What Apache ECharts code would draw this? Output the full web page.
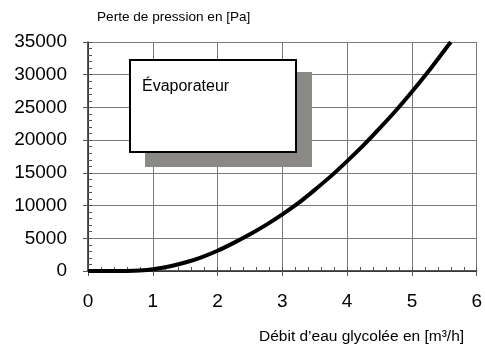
<!DOCTYPE html>
<html>
<head>
<meta charset="utf-8">
<script src="https://cdn.jsdelivr.net/npm/echarts@6/dist/echarts.min.js"></script>
<style>
  html, body { margin: 0; padding: 0; background: #ffffff; }
  #chart { width: 485px; height: 348px; }
</style>
</head>
<body>
<div id="chart"></div>
<script>
// Pressure drop of the evaporator versus glycol water flow
const flowRate = [0, 0.4, 0.6, 0.8, 1.0, 1.25, 1.5, 1.75, 2.0, 2.25, 2.5, 2.75, 3.0, 3.25, 3.5, 3.75, 4.0, 4.25, 4.5, 4.75, 5.0, 5.25, 5.5, 5.6];
const pressureDrop = [0, 0, 10, 90, 280, 700, 1300, 2100, 3100, 4300, 5610, 7050, 8650, 10400, 12400, 14500, 16800, 19200, 21800, 24500, 27400, 30450, 33700, 35000];
const xTicks = [0, 1, 2, 3, 4, 5, 6];
const yTicks = [0, 5000, 10000, 15000, 20000, 25000, 30000, 35000];

const seriesName = 'Évaporateur';
const yTitle = 'Perte de pression en [Pa]';
const xTitle = 'Débit d’eau glycolée en [m³/h]';

const FONT = 'Liberation Sans, Arial, sans-serif';
const chart = echarts.init(document.getElementById('chart'), null, { renderer: 'canvas' });

const xMin = xTicks[0], xMax = xTicks[xTicks.length - 1];
const yMin = yTicks[0], yMax = yTicks[yTicks.length - 1];
const xStep = xTicks[1] - xTicks[0];
const yStep = yTicks[1] - yTicks[0];

// secondary axes carry only the short inward minor ticks
const minorAxis = (min, max, step) => ({
  type: 'value', min: min, max: max, interval: step, offset: 0,
  axisLine: { show: true, onZero: false, lineStyle: { color: 'rgba(0,0,0,0)' } },
  axisTick: { show: true, inside: true, length: 4, lineStyle: { color: '#555' } },
  minorTick: { show: true, splitNumber: 5, length: 4, lineStyle: { color: '#555' } },
  axisLabel: { show: false },
  splitLine: { show: false }
});

chart.setOption({
  animation: false,
  backgroundColor: '#ffffff',
  grid: { left: 88, right: 8, top: 42, bottom: 77, containLabel: false },
  xAxis: [
    {
      type: 'value', min: xMin, max: xMax, interval: xStep, position: 'bottom',
      axisLine: { show: true, onZero: false, lineStyle: { color: '#222', width: 1.5 } },
      axisTick: { show: true, inside: false, length: 5, lineStyle: { color: '#555' } },
      axisLabel: { color: '#000', fontSize: 19, fontFamily: FONT, margin: 21 },
      splitLine: { show: true, lineStyle: { color: '#7a7a7a', width: 1 } }
    },
    Object.assign(minorAxis(xMin, xMax, xStep), { position: 'bottom' })
  ],
  yAxis: [
    {
      type: 'value', min: yMin, max: yMax, interval: yStep, position: 'left',
      axisLine: { show: true, onZero: false, lineStyle: { color: '#222', width: 1.5 } },
      axisTick: { show: true, inside: false, length: 5, lineStyle: { color: '#555' } },
      axisLabel: { color: '#000', fontSize: 19, fontFamily: FONT, margin: 21, formatter: v => String(v) },
      splitLine: { show: true, lineStyle: { color: '#7a7a7a', width: 1 } }
    },
    Object.assign(minorAxis(yMin, yMax, yStep), { position: 'left' })
  ],
  series: [
    {
      name: seriesName,
      type: 'line',
      xAxisIndex: 0,
      yAxisIndex: 0,
      smooth: 0.3,
      showSymbol: false,
      symbol: 'none',
      clip: true,
      lineStyle: { color: '#000', width: 4 },
      data: flowRate.map((x, i) => [x, pressureDrop[i]]),
      z: 5
    }
  ],
  graphic: [
    {
      type: 'text', left: 97, top: 10,
      style: { text: yTitle, fill: '#000', font: '13.6px ' + FONT }
    },
    {
      type: 'text', left: 259, top: 329,
      style: { text: xTitle, fill: '#000', font: '15.5px ' + FONT }
    },
    {
      type: 'rect', shape: { x: 145, y: 72, width: 167, height: 95 },
      style: { fill: '#8a8985' }, z: 10
    },
    {
      type: 'rect', shape: { x: 130, y: 60, width: 166, height: 92 },
      style: { fill: '#ffffff', stroke: '#000', lineWidth: 2 }, z: 11
    },
    {
      type: 'text', left: 142, top: 79, z: 12,
      style: { text: seriesName, fill: '#000', font: '16px ' + FONT }
    }
  ]
});
</script>
</body>
</html>
